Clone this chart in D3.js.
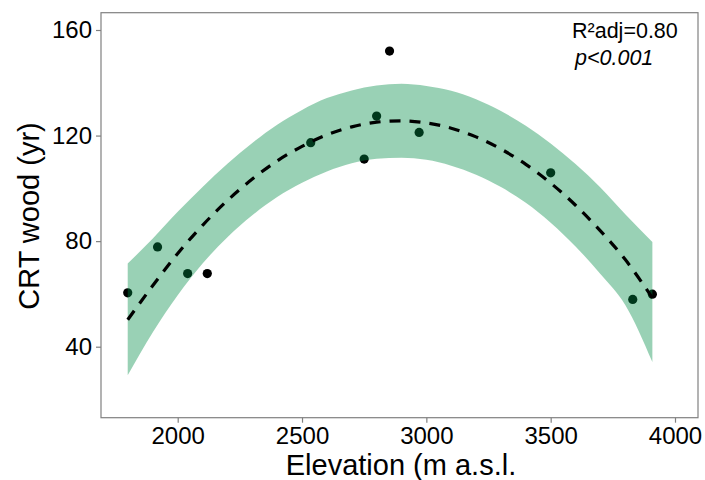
<!DOCTYPE html>
<html><head><meta charset="utf-8">
<script src="https://cdn.jsdelivr.net/npm/d3@7"></script>
<style>body{margin:0;background:#fff}svg text{font-family:"Liberation Sans",Arial,sans-serif}</style>
</head><body><svg id="c" width="705" height="480"></svg>
<script>
// observed points
const elevation = [1799, 1919, 2040, 2119, 2535, 2750, 2800, 2852, 2971, 3500, 3830, 3909];
const crtWood   = [60.4, 77.8, 67.7, 67.7, 117.3, 111.1, 127.4, 152.0, 121.2, 105.9, 57.9, 59.9];
// fitted curve with confidence band
const fitElev  = [1799, 1900, 2000, 2100, 2200, 2300, 2400, 2500, 2600, 2700, 2800, 2900, 3000, 3100, 3200, 3300, 3400, 3500, 3600, 3700, 3800, 3909];
const fitValue = [50.2, 63.2, 75.3, 86.0, 95.4, 103.5, 110.4, 115.9, 120.3, 123.3, 125.1, 125.6, 124.8, 122.8, 119.5, 114.9, 109.1, 102.0, 93.6, 83.9, 73.0, 58.5];
const fitLower = [29.2, 45.5, 59.5, 71.5, 81.5, 89.8, 96.7, 102.1, 106.4, 109.5, 111.2, 111.6, 110.8, 108.6, 105.2, 100.5, 94.5, 87.0, 78.0, 67.5, 55.8, 34.2];
const fitUpper = [71.5, 81.0, 91.1, 100.5, 109.3, 117.2, 124.1, 129.7, 134.2, 137.1, 139.0, 139.6, 138.8, 137.0, 133.8, 129.3, 123.7, 117.0, 109.2, 100.3, 90.2, 79.7];
const xTicks = [2000, 2500, 3000, 3500, 4000];
const yTicks = [40, 80, 120, 160];

const svg = d3.select("#c");
const L = 101, R = 698, T = 12.7, B = 417.7;
const x = d3.scaleLinear().domain([2000, 4000]).range([177.7, 675]);
const y = d3.scaleLinear().domain([40, 160]).range([346.7, 30]);

// points (under ribbon)
svg.append("g").selectAll("circle").data(elevation).join("circle")
  .attr("cx", (d) => x(d)).attr("cy", (d, i) => y(crtWood[i])).attr("r", 4.6).attr("fill", "#000");

const band = fitElev.map((e, i) => ({e, lo: fitLower[i], hi: fitUpper[i], v: fitValue[i]}));
svg.append("path").datum(band)
  .attr("d", d3.area().x(d => x(d.e)).y0(d => y(d.lo)).y1(d => y(d.hi)).curve(d3.curveMonotoneX))
  .attr("fill", "rgb(0,140,70)").attr("fill-opacity", 0.4);
svg.append("path").datum(band)
  .attr("d", d3.line().x(d => x(d.e)).y(d => y(d.v)).curve(d3.curveMonotoneX))
  .attr("fill", "none").attr("stroke", "#000").attr("stroke-width", 3.2).attr("stroke-dasharray", "11,9");

// panel border
svg.append("rect").attr("x", L).attr("y", T).attr("width", R - L).attr("height", B - T)
  .attr("fill", "none").attr("stroke", "#808080").attr("stroke-width", 1.2);

// axes
const xa = svg.append("g").attr("transform", `translate(0,${B})`)
  .call(d3.axisBottom(x).tickValues(xTicks).tickSize(5).tickPadding(4).tickFormat(d3.format("d")));
const ya = svg.append("g").attr("transform", `translate(${L},0)`)
  .call(d3.axisLeft(y).tickValues(yTicks).tickSize(5).tickPadding(4));
[xa, ya].forEach(g => {
  g.select(".domain").remove();
  g.selectAll("line").attr("stroke", "#808080").attr("stroke-width", 1.2);
  g.selectAll("text").attr("fill", "#000").style("font-size", "24px").style("font-family", '"Liberation Sans",Arial,sans-serif');
});

svg.append("text").attr("x", 401).attr("y", 475).attr("text-anchor", "middle")
  .style("font-size", "29px").text("Elevation (m a.s.l.");
svg.append("text").attr("transform", "translate(39,216) rotate(-90)").attr("text-anchor", "middle")
  .style("font-size", "29px").text("CRT wood (yr)");

svg.append("text").attr("x", 572).attr("y", 38).style("font-size", "21.5px").text("R²adj=0.80");
svg.append("text").attr("x", 575).attr("y", 65).style("font-size", "21.5px").style("font-style", "italic").text("p<0.001");
</script></body></html>
